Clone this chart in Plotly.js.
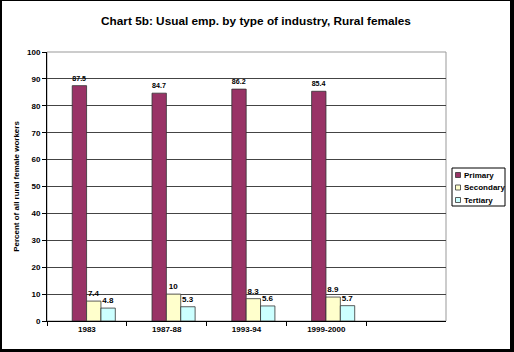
<!DOCTYPE html>
<html>
<head>
<meta charset="utf-8">
<script src="https://cdn.plot.ly/plotly-3.0.1.min.js"></script>
<style>
  html, body { margin: 0; padding: 0; background: #fff; }
  #frame { position: absolute; left: 0; top: 0; width: 508px; height: 348px;
           border-left: 2px solid #000; border-top: 1px solid #000;
           border-right: 4px solid #000; border-bottom: 3px solid #000; background:#fff; }
  #chart { width: 508px; height: 348px; }
</style>
</head>
<body>
<div id="frame"><div id="chart"></div></div>
<script>
// ---- data ----
const categories = ['1983', '1987-88', '1993-94', '1999-2000'];
const seriesNames = ['Primary', 'Secondary', 'Tertiary'];
const primary   = [87.5, 84.7, 86.2, 85.4];
const secondary = [7.4, 10, 8.3, 8.9];
const tertiary  = [4.8, 5.3, 5.6, 5.7];
const yTicks = [0, 10, 20, 30, 40, 50, 60, 70, 80, 90, 100];

const colors = ['#993366', '#FFFFCC', '#CCFFFF'];
const offsets = [-0.184, -0.004, 0.176];
const barW = 0.18;
const font = { family: 'Liberation Sans, Arial, sans-serif', size: 8, color: '#000', weight: 'bold' };

const W = 508, H = 348;
const M = { l: 45, r: 64, t: 51, b: 28 };
const pw = W - M.l - M.r, ph = H - M.t - M.b;
const px = p => (p - M.l) / pw;           // plot-pixel -> paper x
const py = p => 1 - (p - M.t) / ph;       // plot-pixel -> paper y

const values = [primary, secondary, tertiary];
const traces = values.map((v, i) => ({
  type: 'bar',
  name: seriesNames[i],
  x: categories,
  y: v,
  width: barW,
  offset: offsets[i],
  marker: { color: colors[i], line: { color: '#333', width: 0.8 } },
  text: v.map(String),
  textposition: 'outside',
  cliponaxis: false,
  textfont: font,
  showlegend: false,
  hoverinfo: 'skip'
}));

// custom legend (box + swatches + labels)
const lg = { x0: 450, x1: 503, y0: 167, y1: 205 };
const shapes = [{
  type: 'rect', xref: 'paper', yref: 'paper',
  x0: px(lg.x0), x1: px(lg.x1), y0: py(lg.y0), y1: py(lg.y1),
  line: { color: '#000', width: 1 }, fillcolor: '#fff'
}];
const annotations = [];
seriesNames.forEach((n, i) => {
  const cy = 174 + i * 12.5;
  shapes.push({
    type: 'rect', xref: 'paper', yref: 'paper',
    x0: px(453.5), x1: px(458.5), y0: py(cy - 2.5), y1: py(cy + 2.5),
    line: { color: '#333', width: 0.8 }, fillcolor: colors[i]
  });
  annotations.push({
    xref: 'paper', yref: 'paper', x: px(460), y: py(cy),
    xanchor: 'left', yanchor: 'middle', showarrow: false,
    text: n, font: font
  });
});

const layout = {
  width: W, height: H,
  margin: M,
  paper_bgcolor: '#fff', plot_bgcolor: '#fff',
  barmode: 'overlay',
  title: {
    text: 'Chart 5b: Usual emp. by type of industry, Rural females',
    font: { family: 'Liberation Sans, Arial, sans-serif', size: 11.8, color: '#000', weight: 'bold' },
    x: 0.5, xanchor: 'center', y: 1 - 20 / H, yanchor: 'middle'
  },
  xaxis: {
    type: 'category',
    categoryorder: 'array', categoryarray: categories,
    range: [-0.5, 4.5],
    tickson: 'boundaries',
    ticks: 'outside', ticklen: 4, tickcolor: '#000',
    showline: true, linecolor: '#000', linewidth: 1,
    showgrid: false,
    tickfont: font,
    fixedrange: true
  },
  yaxis: {
    range: [0, 100],
    tickvals: yTicks,
    ticks: 'outside', ticklen: 4, tickcolor: '#000',
    showline: true, linecolor: '#000', linewidth: 1,
    showgrid: true, gridcolor: '#444', gridwidth: 1,
    zeroline: false,
    tickfont: font,
    title: { text: 'Percent of all rural female workers', font: font, standoff: 6 },
    fixedrange: true
  },
  shapes: [{
    type: 'rect', xref: 'paper', yref: 'paper', x0: 0, x1: 1, y0: 0, y1: 1,
    line: { color: '#999', width: 1 }, fillcolor: 'rgba(0,0,0,0)', layer: 'below'
  }].concat(shapes),
  annotations: annotations
};

Plotly.newPlot('chart', traces, layout, { displayModeBar: false, staticPlot: true });
</script>
</body>
</html>
